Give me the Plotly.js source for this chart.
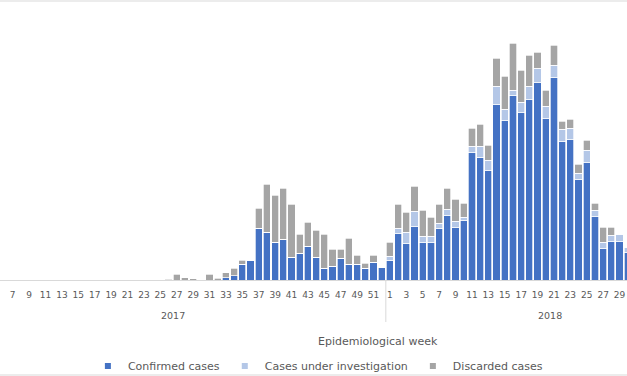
<!DOCTYPE html>
<html>
<head>
<meta charset="utf-8">
<script src="https://cdn.plot.ly/plotly-3.0.1.min.js"></script>
<style>html,body{margin:0;padding:0;background:#fff;}#chart{width:627px;height:376px;}</style>
</head>
<body>
<div id="chart"></div>
<script>
// Epidemiological weeks: 2017 weeks 1-52, then 2018 weeks 1-30
const weeks = [
  1,2,3,4,5,6,7,8,9,10,11,12,13,14,15,16,17,18,19,20,21,22,23,24,25,26,
  27,28,29,30,31,32,33,34,35,36,37,38,39,40,41,42,43,44,45,46,47,48,49,50,51,52,
  1,2,3,4,5,6,7,8,9,10,11,12,13,14,15,16,17,18,19,20,21,22,23,24,25,26,27,28,29,30
];
const yearLabels = ["2017", "2018"];
const yearWeekSpan = [52, 40];   // weeks per year group on the full axis

const confirmed = [
  0,0,0,0,0,0,0,0,0,0,0,0,0,0,0,0,0,0,0,0,0,0,0,0,0,0,
  0,0,0,0,0,0,2.5,4.5,16,20,52,48,38,41,23,27,34,23,12,14,22,16,16,12,18,13,
  20,47,37,54,38,38,52,65,53,60,128,123,110,176,160,185,168,181,198,162,203,139,141,101,118,64,32,39,39,28
];
const underInvestigation = [
  0,0,0,0,0,0,0,0,0,0,0,0,0,0,0,0,0,0,0,0,0,0,0,0,0,0,
  0,0,0,0,0,0,0,0,0,0,0,0,0,0,0,0,0,0,0,0,0,0,0,0,0,0,
  4,5,11,15,6,6,5,6,6,3,6,11,10,18,11,5,10,13,14,12,12,12,11,6,12,6,6,6,7,5
];
const discarded = [
  0,0,0,0,0,0,0,0,0,0,0,0,0,0,0,0,0,0,0,0,0,0,0,0,0,1,
  6,2.5,1.5,0,6,2,5,7.5,4,0,20,48,47,51,53,19,24,27,34,17,9,26,9,5,7,0,
  14,24,20,25,26,19,19,21,22,14,18,22,15,28,33,47,32,31,16,16,20,8,9,9,10,7,15,8,0,0
];
const seriesNames = ["Confirmed cases", "Cases under investigation", "Discarded cases"];
const colors = ["#4472C4", "#B4C7E7", "#A5A5A5"];

// position index along the axis
const xIdx = weeks.map((w, i) => i + 1);

// ticks: odd weeks of each year group
const tickvals = [], ticktext = [];
let offset = 0;
yearWeekSpan.forEach(span => {
  for (let w = 1; w <= span; w += 2) { tickvals.push(offset + w); ticktext.push(String(w)); }
  offset += span;
});

const values = [confirmed, underInvestigation, discarded];
const traces = values.map((v, k) => ({
  type: "bar",
  x: xIdx,
  y: v,
  name: seriesNames[k],
  marker: { color: colors[k], line: { color: "#ffffff", width: 0.7 } },
  showlegend: false,
  hoverinfo: "skip"
}));
// legend entries with small square markers
seriesNames.forEach((n, k) => traces.push({
  type: "scatter", mode: "markers", x: [null], y: [null], name: n,
  marker: { symbol: "square", size: 6, color: colors[k] }, hoverinfo: "skip"
}));

const txt = "#595959";
const font = "DejaVu Sans, Verdana, sans-serif";
const W = 627, HT = 376;
const H = 280; // plot height in px
const py = px => (H - px) / H;

const annotations = [];
let start = 0;
yearWeekSpan.forEach((span, i) => {
  annotations.push({
    x: start + (span + 1) / 2, xref: "x", y: py(315), yref: "paper",
    text: yearLabels[i], showarrow: false, font: { family: font, size: 9.5, color: txt },
    xanchor: "center", yanchor: "middle"
  });
  start += span;
});
annotations.push({
  x: 378 / W, xref: "paper", y: py(341), yref: "paper",
  text: "Epidemiological week", showarrow: false,
  font: { family: font, size: 11, color: txt }, xanchor: "center", yanchor: "middle"
});

const shapes = [
  { type: "line", xref: "x", yref: "paper", x0: yearWeekSpan[0] + 0.5, x1: yearWeekSpan[0] + 0.5,
    y0: 0, y1: py(322), line: { color: "#D9D9D9", width: 1 } },
  { type: "line", xref: "paper", yref: "paper", x0: 0, x1: 1, y0: py(1), y1: py(1),
    line: { color: "#D9D9D9", width: 1 } },
  { type: "line", xref: "paper", yref: "paper", x0: 0, x1: 1, y0: py(375), y1: py(375),
    line: { color: "#D9D9D9", width: 1 } }
];

const layout = {
  width: W, height: HT,
  margin: { l: 0, r: 0, t: 0, b: HT - H, pad: 0, autoexpand: false },
  paper_bgcolor: "#ffffff", plot_bgcolor: "#ffffff",
  barmode: "stack", bargap: 0.13,
  xaxis: {
    range: [5.45, 81.91], tickvals: tickvals, ticktext: ticktext, tickangle: 0,
    showgrid: false, zeroline: false, showline: true, linecolor: "#D9D9D9", linewidth: 1,
    ticks: "", ticklabelstandoff: 6, automargin: false,
    tickfont: { family: font, size: 9, color: txt }, fixedrange: true
  },
  yaxis: { range: [0, H], visible: false, fixedrange: true },
  showlegend: true,
  legend: {
    orientation: "h", traceorder: "normal", x: 0.507, xanchor: "center",
    yref: "container", y: (HT - 366) / HT, yanchor: "middle",
    font: { family: font, size: 11, color: txt }, bgcolor: "rgba(0,0,0,0)"
  },
  annotations: annotations,
  shapes: shapes
};

Plotly.newPlot("chart", traces, layout, { staticPlot: true, displayModeBar: false });
</script>
</body>
</html>
